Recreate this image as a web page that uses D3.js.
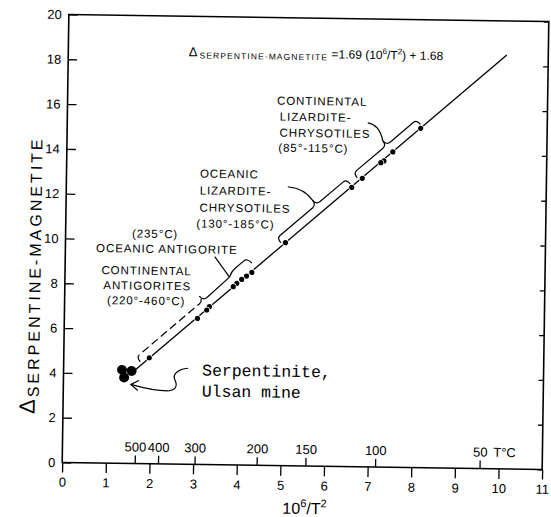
<!DOCTYPE html>
<html><head><meta charset="utf-8">
<script src="https://cdn.jsdelivr.net/npm/d3@7/dist/d3.min.js"></script>
<style>body{margin:0;background:#fff}</style>
</head><body>
<script>
// ---- data ----
const xTicks = [0,1,2,3,4,5,6,7,8,9,10,11];
const yTicks = [0,2,4,6,8,10,12,14,16,18,20];
const tempTicks = [500,400,300,200,150,100,50];
const sampleX = [8.10,7.47,7.27,7.20,6.78,6.54,5.04,4.28,4.16,4.05,3.94,3.86,3.32,3.26,3.05,1.96];
const sampleY = [15.15,14.08,13.67,13.59,12.88,12.47,9.96,8.61,8.44,8.29,8.11,7.96,7.05,6.90,6.52,4.73];
const ulsanX = [1.34,1.56,1.39];
const ulsanY = [4.17,4.13,3.83];
const fitX = [1.64, 10.05];
const fitY = [4.17, 18.48];
const groupFrom = [1.80, 4.98, 6.71];
const groupTip  = [3.31, 5.87, 7.46];
const groupTo   = [3.92, 6.55, 8.14];
const oceanicAntFrom = 3.92, oceanicAntTo = 4.37;

// ---- layout ----
const W=551,H=517;
const L=65.5,T=18,PW=480,PH=448;
const FONT="'Liberation Sans', Arial, sans-serif";
const svg=d3.select('body').append('svg').attr('width',W).attr('height',H);
const g=svg.append('g').attr('transform','rotate(0.85,305.5,242)');
const x=d3.scaleLinear().domain([0,11]).range([L,L+PW]);
const y=d3.scaleLinear().domain([0,20]).range([T+PH,T]);

// frame
g.append('rect').attr('x',L).attr('y',T).attr('width',PW).attr('height',PH)
 .attr('fill','none').attr('stroke','#000').attr('stroke-width',1.6);

function styleAxis(sel,fs){
  sel.select('.domain').remove();
  sel.selectAll('line').attr('stroke','#000').attr('stroke-width',1.3);
  sel.selectAll('text').attr('font-family',FONT).attr('font-size',fs).attr('fill','#000');
}
// left axis
g.append('g').attr('transform',`translate(${L},0)`)
 .call(d3.axisLeft(y).tickValues(yTicks).tickSize(-9).tickPadding(7).tickFormat(d3.format('d')))
 .call(s=>styleAxis(s,13));
// right ticks
g.append('g').attr('transform',`translate(${L+PW},0)`)
 .call(d3.axisRight(y).tickValues(yTicks).tickSize(-5).tickFormat(''))
 .call(s=>styleAxis(s,13));
// bottom axis
g.append('g').attr('transform',`translate(0,${T+PH})`)
 .call(d3.axisBottom(x).tickValues(xTicks).tickSize(10).tickPadding(5).tickFormat(d3.format('d')))
 .call(s=>styleAxis(s,13));
// temperature scale (inside, on bottom edge)
const tempPos = t => 1e6/Math.pow(t+273.15,2);
const tg=g.append('g');
tg.selectAll('line').data(tempTicks).join('line')
 .attr('x1',d=>x(tempPos(d))).attr('x2',d=>x(tempPos(d)))
 .attr('y1',T+PH).attr('y2',T+PH-8).attr('stroke','#000').attr('stroke-width',1.3);
tg.selectAll('text').data(tempTicks).join('text')
 .attr('x',d=>x(tempPos(d))).attr('y',T+PH-12).attr('text-anchor','middle')
 .attr('font-family',FONT).attr('font-size',13).text(d=>d);
tg.append('text').attr('x',x(tempPos(50))+13).attr('y',T+PH-12)
 .attr('font-family',FONT).attr('font-size',13).text('T°C');

// axis titles
const xt=g.append('text').attr('x',x(5.5)+3).attr('y',514).attr('text-anchor','middle')
 .attr('font-family',FONT).attr('font-size',16);
xt.append('tspan').text('10');
xt.append('tspan').attr('font-size',11).attr('dy',-7).text('6');
xt.append('tspan').attr('dy',7).text('/T');
xt.append('tspan').attr('font-size',11).attr('dy',-7).text('2');

const yt=g.append('text').attr('transform','translate(37,418) rotate(-90)')
 .attr('font-family',FONT);
yt.append('tspan').attr('font-size',22).text('Δ');
yt.append('tspan').attr('font-size',16).attr('dy',4).attr('dx',2).attr('letter-spacing',3).text('SERPENTINE-MAGNETITE');

// equation
const eq=g.append('text').attr('x',186).attr('y',58).attr('font-family',FONT);
eq.append('tspan').attr('font-size',13).text('Δ');
eq.append('tspan').attr('font-size',8.5).attr('dy',2).attr('dx',2).attr('letter-spacing',1.1).text('SERPENTINE-MAGNETITE');
eq.append('tspan').attr('font-size',12).attr('dy',-2).text(' =1.69 (10');
eq.append('tspan').attr('font-size',8).attr('dy',-5).text('6');
eq.append('tspan').attr('font-size',12).attr('dy',5).text('/T');
eq.append('tspan').attr('font-size',8).attr('dy',-5).text('2');
eq.append('tspan').attr('font-size',12).attr('dy',5).text(') + 1.68');

// fit line
const fitPts = fitX.map((v,i)=>[v,fitY[i]]);
g.append('path').attr('d',d3.line().x(d=>x(d[0])).y(d=>y(d[1]))(fitPts))
 .attr('fill','none').attr('stroke','#000').attr('stroke-width',1.3);

// geometry along the fit line
const p0=[x(fitX[0]),y(fitY[0])], p1=[x(fitX[1]),y(fitY[1])];
const len=Math.hypot(p1[0]-p0[0],p1[1]-p0[1]);
const u=[(p1[0]-p0[0])/len,(p1[1]-p0[1])/len];
const n=[u[1],-u[0]];
const fitAt=v=>fitY[0]+(fitY[1]-fitY[0])*(v-fitX[0])/(fitX[1]-fitX[0]);
function P(v,da,dp){const bx=x(v),by=y(fitAt(v));return (bx+u[0]*da+n[0]*dp).toFixed(1)+','+(by+u[1]*da+n[1]*dp).toFixed(1);}
const D=9, TIP=15;
const ann=g.append('g').attr('fill','none').attr('stroke','#000').attr('stroke-width',1.2);
groupFrom.forEach((a,i)=>{
  const t=groupTip[i], b=groupTo[i];
  ann.append('path').attr('d',`M${P(a,0,3)} Q${P(a,0,D)} ${P(a,4,D)} L${P(t,-5,D)} Q${P(t,0,D)} ${P(t,0,TIP)}`)
   .attr('stroke-dasharray', i===0?'8,4':null);
  const endPart = i===0 ? `L${P(b,0,D+1)}` : `L${P(b,-4,D)} Q${P(b,0,D)} ${P(b,0,3)}`;
  ann.append('path').attr('d',`M${P(t,0,TIP)} Q${P(t,0,D)} ${P(t,5,D)} ${endPart}`);
});
// oceanic antigorite cap
ann.append('path').attr('d',`M${P(oceanicAntFrom,0,D+1)} Q${P(oceanicAntFrom,5,13)} ${P(oceanicAntFrom,10,13)} L${P(oceanicAntTo,-5,13)} Q${P(oceanicAntTo,0,13)} ${P(oceanicAntTo,0,6)}`);
// pointers
ann.append('path').attr('d',`M215,258 L${P(oceanicAntFrom,0,D+1)}`);
ann.append('path').attr('d',`M287,187 Q304,188.5 ${P(groupTip[1],0,TIP)}`);
ann.append('path').attr('d',`M366,122 Q378,124 ${P(groupTip[2],0,TIP)}`);
// Ulsan arrow
ann.append('path').attr('d','M190,370 C180,371 174,376 177,382 C180,388 178,392 170,393 C157,393 144,390 133,387');
ann.append('path').attr('d','M141,383 L133,387 L140,393');

// sample points
g.append('g').selectAll('circle').data(sampleX.map((v,i)=>[v,sampleY[i]])).join('circle')
 .attr('cx',d=>x(d[0])).attr('cy',d=>y(d[1])).attr('r',2.6)
 .attr('fill','#000').attr('stroke','#fff').attr('stroke-width',1.4).attr('paint-order','stroke');
g.append('g').selectAll('circle').data(ulsanX.map((v,i)=>[v,ulsanY[i]])).join('circle')
 .attr('cx',d=>x(d[0])).attr('cy',d=>y(d[1])).attr('r',5).attr('fill','#000');

// labels
const lab=g.append('g').attr('font-family',FONT).attr('font-size',11.5).attr('letter-spacing',0.9);
function txt(s,xx,yy,anchor){lab.append('text').attr('x',xx).attr('y',yy).attr('text-anchor',anchor||'start').text(s);}
txt('CONTINENTAL',275,105); txt('LIZARDITE-',278,121); txt('CHRYSOTILES',278,137); txt('(85°-115°C)',277,152);
txt('OCEANIC',199,179); txt('LIZARDITE-',199,196); txt('CHRYSOTILES',199,213); txt('(130°-185°C)',196,229);
txt('(235°C)',155,240,'middle'); txt('OCEANIC ANTIGORITE',167,255,'middle');
txt('CONTINENTAL',147,277,'middle'); txt('ANTIGORITES',148,292,'middle'); txt('(220°-460°C)',147,307,'middle');

const ms=g.append('g').attr('font-family',"'Liberation Mono','Courier New',monospace").attr('font-size',16.5);
ms.append('text').attr('x',204).attr('y',377).text('Serpentinite,');
ms.append('text').attr('x',204).attr('y',398).text('Ulsan mine');
</script>
</body></html>
